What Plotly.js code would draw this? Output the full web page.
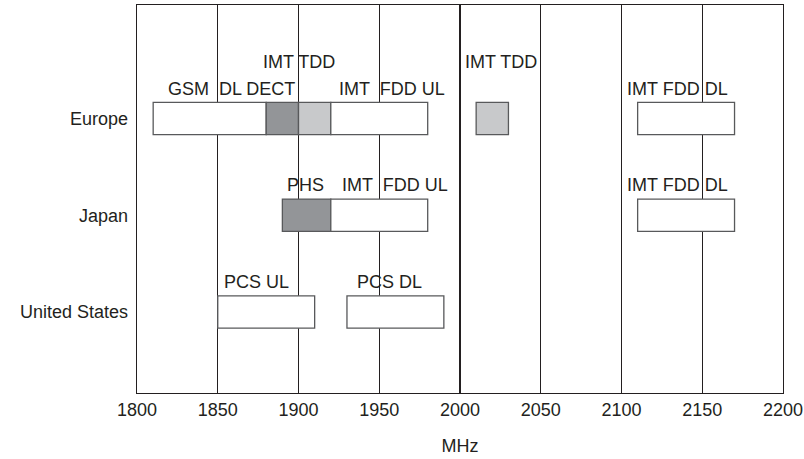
<!DOCTYPE html>
<html>
<head>
<meta charset="utf-8">
<script src="https://cdn.plot.ly/plotly-3.0.1.min.js"></script>
<style>html,body{margin:0;padding:0;background:#fff;}#chart{width:804px;height:459px;}</style>
</head>
<body>
<div id="chart"></div>
<script>
// Regions (rows, bottom to top index)
var regions = ['United States', 'Japan', 'Europe'];

// Frequency bands (MHz)
var bandRegion = ['Europe','Europe','Europe','Europe','Europe','Europe','Japan','Japan','Japan','United States','United States'];
var bandStart  = [1810, 1880, 1900, 1920, 2010, 2110, 1890, 1920, 2110, 1850, 1930];
var bandEnd    = [1880, 1900, 1920, 1980, 2030, 2170, 1920, 1980, 2170, 1910, 1990];
var bandShade  = ['none','dark','light','none','light','none','dark','none','none','none','none'];

// Band labels
var labelText   = ['GSM  DL DECT','IMT TDD','IMT  FDD UL','IMT TDD','IMT FDD DL','PHS','IMT  FDD UL','IMT FDD DL','PCS UL','PCS DL'];
var labelRegion = ['Europe','Europe','Europe','Europe','Europe','Japan','Japan','Japan','United States','United States'];
var labelX      = [1858.6, 1900, 1958, 2025.6, 2134.7, 1904.6, 1959.8, 2134.7, 1874.2, 1956.2];
var labelTier   = [1, 2, 1, 2, 1, 1, 1, 1, 1, 1];

var xTicks = [1800, 1850, 1900, 1950, 2000, 2050, 2100, 2150, 2200];

var shadeColor = {none: '#ffffff', dark: '#939598', light: '#c8c9cb'};
var FONT = '"Liberation Sans", Arial, sans-serif';
var FS = 18;
var INK = '#231f20';

var yIdx = bandRegion.map(function(r){ return regions.indexOf(r); });
var trace = {
  type: 'bar',
  orientation: 'h',
  y: yIdx,
  base: bandStart,
  x: bandEnd.map(function(e, i){ return e - bandStart[i]; }),
  width: 0.335,
  marker: {
    color: bandShade.map(function(s){ return shadeColor[s]; }),
    line: {color: '#58595b', width: 1.3}
  },
  hoverinfo: 'skip',
  showlegend: false
};

var annotations = labelText.map(function(t, i){
  return {
    x: labelX[i], y: regions.indexOf(labelRegion[i]),
    xref: 'x', yref: 'y',
    text: t, showarrow: false,
    xanchor: 'center', yanchor: 'middle',
    yshift: labelTier[i] === 2 ? 57 : 30,
    font: {family: FONT, size: FS, color: INK}
  };
});

var layout = {
  width: 804, height: 459,
  margin: {l: 137, r: 21, t: 5, b: 66},
  paper_bgcolor: '#ffffff', plot_bgcolor: '#ffffff',
  font: {family: FONT, size: FS, color: INK},
  bargap: 0,
  xaxis: {
    range: [1799.99, 2200.01],
    tickvals: xTicks,
    ticktext: xTicks.map(String),
    showgrid: true, gridcolor: INK, gridwidth: 1.3,
    zeroline: false,
    showline: true, linecolor: INK, linewidth: 1.4, mirror: true,
    ticks: '',
    ticklabelstandoff: 0,
    tickfont: {family: FONT, size: FS, color: INK},
    title: {text: 'MHz', font: {family: FONT, size: FS, color: INK}, standoff: 20}
  },
  yaxis: {
    range: [-0.837, 3.173],
    tickvals: [0, 1, 2],
    ticktext: regions,
    showgrid: false, zeroline: false,
    showline: true, linecolor: INK, linewidth: 1.4, mirror: true,
    ticks: '',
    ticklabelstandoff: 4,
    tickfont: {family: FONT, size: FS, color: INK}
  },
  annotations: annotations
};

Plotly.newPlot('chart', [trace], layout, {displayModeBar: false, staticPlot: true});
</script>
</body>
</html>
